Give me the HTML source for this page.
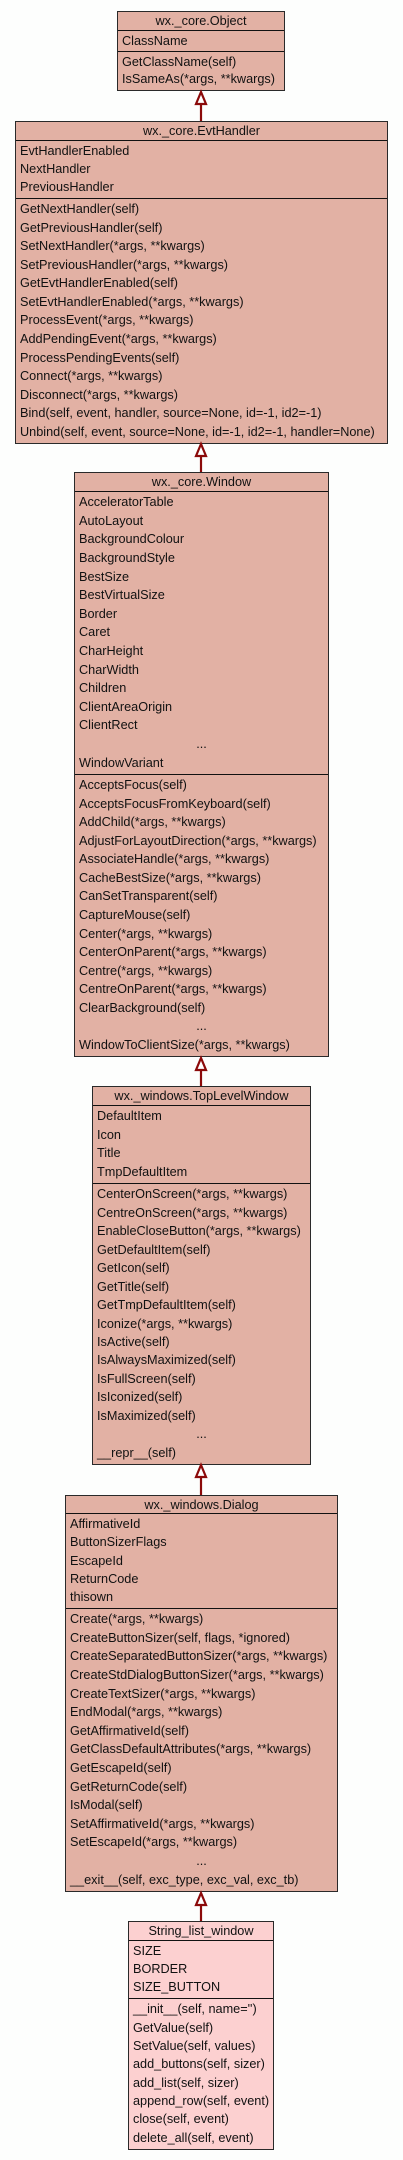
<!DOCTYPE html>
<html><head><meta charset="utf-8"><style>
html,body{margin:0;padding:0;background:#fdfefd;}
body{width:403px;height:2160px;position:relative;overflow:hidden;font-family:"Liberation Sans",sans-serif;font-size:12.7px;color:#111;}
.b{position:absolute;background:#e2b1a4;border:1px solid #2a2a2a;box-sizing:border-box;display:flex;flex-direction:column;}
.s{display:flex;flex-direction:column;padding:1px 0 2px 0;box-sizing:border-box;border-top:1.5px solid #111;}
.t{text-align:center;display:flex;align-items:center;justify-content:center;border-top:none;padding:0;}
.s div{flex:1;display:flex;align-items:center;padding-left:4px;white-space:nowrap;}
.s div.c{justify-content:center;padding-left:0;}
.p{background:#fcd0d0;}
svg{position:absolute;left:0;top:0;}
</style></head><body>

<div class="b" style="left:117px;top:11px;width:168px;height:80px;">
 <div class="s t" style="height:18px;">wx._core.Object</div>
 <div class="s" style="height:21px;"><div>ClassName</div></div>
 <div class="s" style="flex:1;"><div>GetClassName(self)</div><div>IsSameAs(*args, **kwargs)</div></div>
</div>

<div class="b" style="left:15px;top:121px;width:373px;height:323px;">
 <div class="s t" style="height:18px;">wx._core.EvtHandler</div>
 <div class="s" style="height:58px;"><div>EvtHandlerEnabled</div><div>NextHandler</div><div>PreviousHandler</div></div>
 <div class="s" style="flex:1;"><div>GetNextHandler(self)</div><div>GetPreviousHandler(self)</div><div>SetNextHandler(*args, **kwargs)</div><div>SetPreviousHandler(*args, **kwargs)</div><div>GetEvtHandlerEnabled(self)</div><div>SetEvtHandlerEnabled(*args, **kwargs)</div><div>ProcessEvent(*args, **kwargs)</div><div>AddPendingEvent(*args, **kwargs)</div><div>ProcessPendingEvents(self)</div><div>Connect(*args, **kwargs)</div><div>Disconnect(*args, **kwargs)</div><div>Bind(self, event, handler, source=None, id=-1, id2=-1)</div><div>Unbind(self, event, source=None, id=-1, id2=-1, handler=None)</div></div>
</div>

<div class="b" style="left:74px;top:472px;width:255px;height:585px;">
 <div class="s t" style="height:18px;">wx._core.Window</div>
 <div class="s" style="height:283px;"><div>AcceleratorTable</div><div>AutoLayout</div><div>BackgroundColour</div><div>BackgroundStyle</div><div>BestSize</div><div>BestVirtualSize</div><div>Border</div><div>Caret</div><div>CharHeight</div><div>CharWidth</div><div>Children</div><div>ClientAreaOrigin</div><div>ClientRect</div><div class="c">...</div><div>WindowVariant</div></div>
 <div class="s" style="flex:1;"><div>AcceptsFocus(self)</div><div>AcceptsFocusFromKeyboard(self)</div><div>AddChild(*args, **kwargs)</div><div>AdjustForLayoutDirection(*args, **kwargs)</div><div>AssociateHandle(*args, **kwargs)</div><div>CacheBestSize(*args, **kwargs)</div><div>CanSetTransparent(self)</div><div>CaptureMouse(self)</div><div>Center(*args, **kwargs)</div><div>CenterOnParent(*args, **kwargs)</div><div>Centre(*args, **kwargs)</div><div>CentreOnParent(*args, **kwargs)</div><div>ClearBackground(self)</div><div class="c">...</div><div>WindowToClientSize(*args, **kwargs)</div></div>
</div>

<div class="b" style="left:92px;top:1086px;width:219px;height:379px;">
 <div class="s t" style="height:18px;">wx._windows.TopLevelWindow</div>
 <div class="s" style="height:78px;"><div>DefaultItem</div><div>Icon</div><div>Title</div><div>TmpDefaultItem</div></div>
 <div class="s" style="flex:1;"><div>CenterOnScreen(*args, **kwargs)</div><div>CentreOnScreen(*args, **kwargs)</div><div>EnableCloseButton(*args, **kwargs)</div><div>GetDefaultItem(self)</div><div>GetIcon(self)</div><div>GetTitle(self)</div><div>GetTmpDefaultItem(self)</div><div>Iconize(*args, **kwargs)</div><div>IsActive(self)</div><div>IsAlwaysMaximized(self)</div><div>IsFullScreen(self)</div><div>IsIconized(self)</div><div>IsMaximized(self)</div><div class="c">...</div><div>__repr__(self)</div></div>
</div>

<div class="b" style="left:65px;top:1495px;width:273px;height:397px;">
 <div class="s t" style="height:17px;">wx._windows.Dialog</div>
 <div class="s" style="height:95px;"><div>AffirmativeId</div><div>ButtonSizerFlags</div><div>EscapeId</div><div>ReturnCode</div><div>thisown</div></div>
 <div class="s" style="flex:1;"><div>Create(*args, **kwargs)</div><div>CreateButtonSizer(self, flags, *ignored)</div><div>CreateSeparatedButtonSizer(*args, **kwargs)</div><div>CreateStdDialogButtonSizer(*args, **kwargs)</div><div>CreateTextSizer(*args, **kwargs)</div><div>EndModal(*args, **kwargs)</div><div>GetAffirmativeId(self)</div><div>GetClassDefaultAttributes(*args, **kwargs)</div><div>GetEscapeId(self)</div><div>GetReturnCode(self)</div><div>IsModal(self)</div><div>SetAffirmativeId(*args, **kwargs)</div><div>SetEscapeId(*args, **kwargs)</div><div class="c">...</div><div>__exit__(self, exc_type, exc_val, exc_tb)</div></div>
</div>

<div class="b p" style="left:128px;top:1921px;width:146px;height:229px;">
 <div class="s t" style="height:18px;">String_list_window</div>
 <div class="s" style="height:58px;"><div>SIZE</div><div>BORDER</div><div>SIZE_BUTTON</div></div>
 <div class="s" style="flex:1;"><div>__init__(self, name='')</div><div>GetValue(self)</div><div>SetValue(self, values)</div><div>add_buttons(self, sizer)</div><div>add_list(self, sizer)</div><div>append_row(self, event)</div><div>close(self, event)</div><div>delete_all(self, event)</div></div>
</div>

<svg width="403" height="2160" viewBox="0 0 403 2160">
 <g stroke="#8b0a0a" stroke-width="2.2" fill="#fff">
  <line x1="201" y1="104" x2="201" y2="121"/><polygon points="201,92 196,104 206,104"/>
  <line x1="201" y1="456" x2="201" y2="472"/><polygon points="201,444 196,456 206,456"/>
  <line x1="201" y1="1070" x2="201" y2="1086"/><polygon points="201,1058 196,1070 206,1070"/>
  <line x1="201" y1="1477" x2="201" y2="1495"/><polygon points="201,1465 196,1477 206,1477"/>
  <line x1="201" y1="1905" x2="201" y2="1921"/><polygon points="201,1893 196,1905 206,1905"/>
 </g>
</svg>
</body></html>
